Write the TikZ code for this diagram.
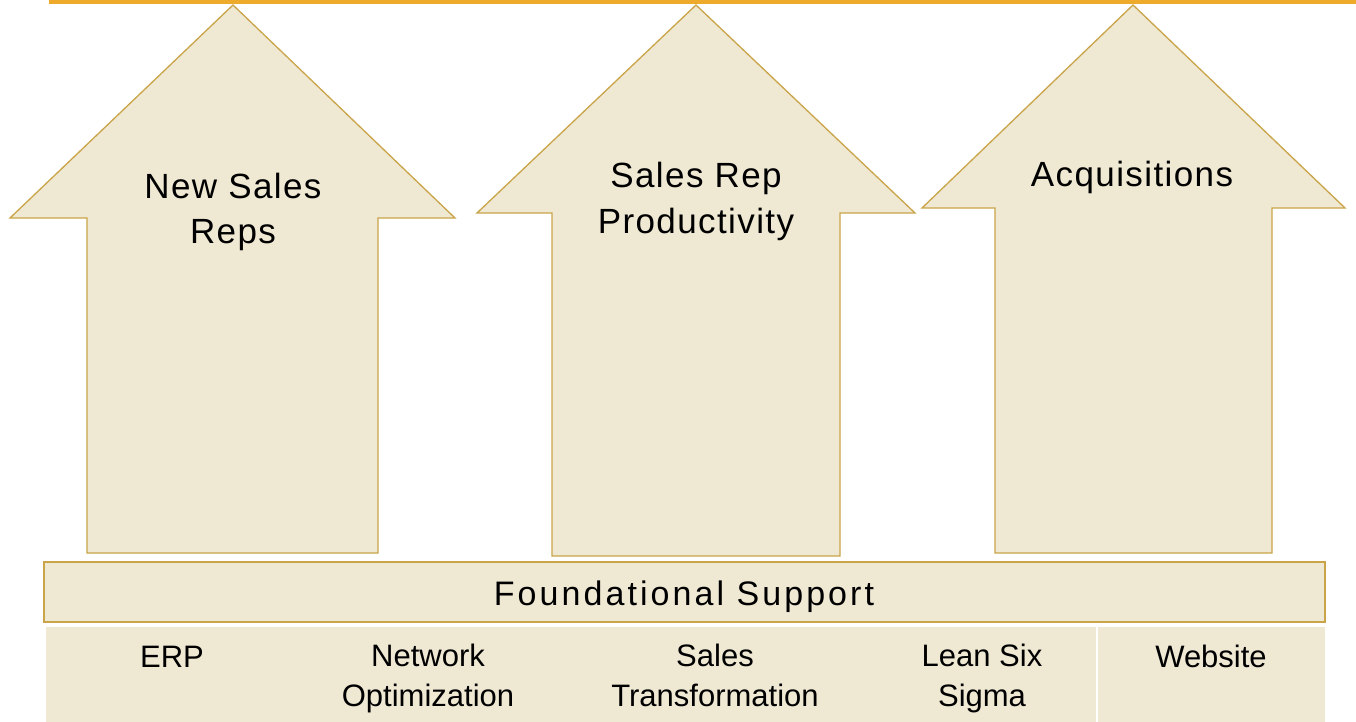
\documentclass[tikz,border=0pt]{standalone}
\usepackage{fontspec}
\setmainfont{Liberation Sans}
\newfontfamily\widefont[LetterSpace=4]{Liberation Sans}
\newfontfamily\widerfont[LetterSpace=9]{Liberation Sans}
\usetikzlibrary{positioning}
\definecolor{topline}{HTML}{EEAA2A}
\definecolor{boxfill}{HTML}{EFE8D3}
\definecolor{boxedge}{HTML}{C9A449}
\tikzset{
  uparrow/.style={draw=boxedge,fill=boxfill,line width=1.3pt,line join=miter},
  arrowtext/.style={font=\widefont\fontsize{35}{45}\selectfont,align=center,inner sep=0pt,anchor=base},
  rowtext/.style={font=\fontsize{31}{40}\selectfont,align=center,inner sep=0pt,anchor=base}
}
\begin{document}
\begin{tikzpicture}[x=1pt,y=-1pt]
  \useasboundingbox (0,0) rectangle (1356,722);

  \draw[topline,line width=4.5pt] (49,2) -- (1356,2); % top rule

  % the three arrows
  \draw[uparrow] (87,553) -- (87,218) -- (10,218) -- (233,5) -- (455,218) -- (378,218) -- (378,553) -- cycle;
  \draw[uparrow] (552,556) -- (552,213) -- (477,213) -- (696,5) -- (915,213) -- (840,213) -- (840,556) -- cycle;
  \draw[uparrow] (995,553) -- (995,208) -- (922,208) -- (1133,5) -- (1345,208) -- (1272,208) -- (1272,553) -- cycle;

  % base = last line
  \node[arrowtext] (newreps) at (233,243) {New Sales\\Reps};
  \node[arrowtext] (productivity) at (696,233) {Sales Rep\\Productivity};
  \node[arrowtext] (acquisitions) at (1132,186) {Acquisitions};

  % foundation bar
  \draw[draw=boxedge,fill=boxfill,line width=1.3pt] (44,562) rectangle (1325,622);
  \node[font=\widerfont\fontsize{34}{40}\selectfont,inner sep=0pt,anchor=base] (support) at (684,605) {Foundational Support};

  % bottom row
  \fill[boxfill] (46,627) rectangle (1325,722);
  \draw[white,line width=2pt] (1097,627) -- (1097,722);
  \node[rowtext] (erp) at (172,667) {ERP};
  \node[rowtext] (network) at (428,706) {Network\\Optimization};
  \node[rowtext] (salestrans) at (715,706) {Sales\\Transformation};
  \node[rowtext] (leansix) at (982,706) {Lean Six\\Sigma};
  \node[rowtext] (website) at (1211,667) {Website};
\end{tikzpicture}
\end{document}
